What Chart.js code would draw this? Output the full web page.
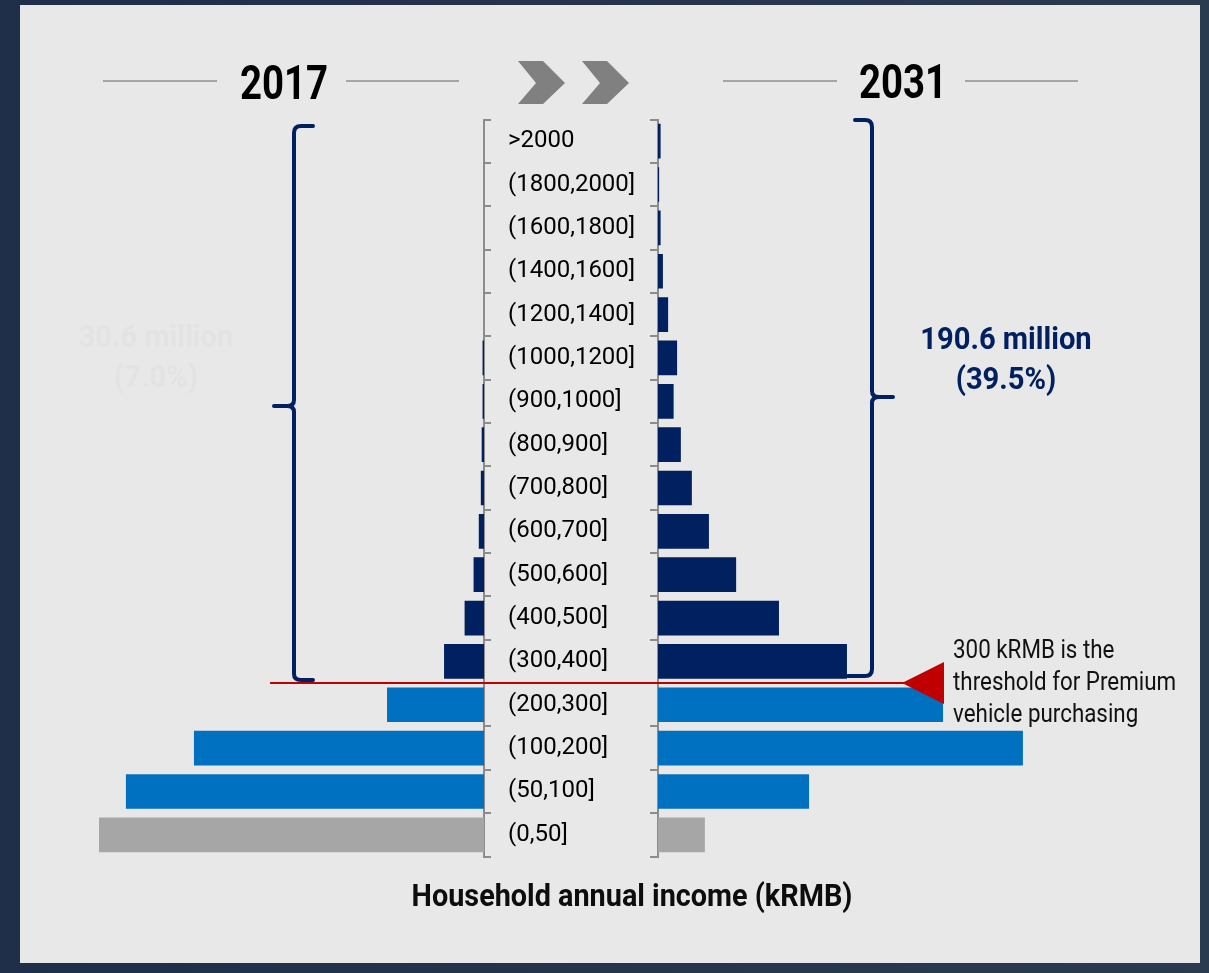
<!DOCTYPE html>
<html><head><meta charset="utf-8">
<script src="https://cdn.jsdelivr.net/npm/chart.js@4.4.1/dist/chart.umd.min.js"></script>
<style>
html,body{margin:0;padding:0;width:1209px;height:973px;overflow:hidden;background:#1f2c42;font-family:Roboto,'Liberation Sans',sans-serif;}
#bg{position:absolute;left:0;top:0;width:1209px;height:973px;background:linear-gradient(90deg,#1f2e49 0%,#25344b 45%,#2b3b4f 100%);}
#panel{position:absolute;left:20px;top:5px;width:1180px;height:958px;background:#e8e8e9;}
canvas{position:absolute;left:0;top:0;}
svg{position:absolute;left:0;top:0;}
.t{position:absolute;white-space:nowrap;}
.c{text-align:center;}
</style></head><body>
<div id="bg"></div><div id="panel"></div>
<svg width="1209" height="973" viewBox="0 0 1209 973">
  <g stroke="#a6a6a6" stroke-width="2">
    <line x1="103" y1="81" x2="217" y2="81"/>
    <line x1="346" y1="81" x2="459" y2="81"/>
    <line x1="723" y1="81" x2="837" y2="81"/>
    <line x1="965" y1="81" x2="1078" y2="81"/>
  </g>
  <g fill="#808080">
    <polygon points="518,61 543,61 565,83 543,104 518,104 536,83"/>
    <polygon points="582,61 607,61 629,83 607,104 582,104 600,83"/>
  </g>
  <g stroke="#002060" stroke-width="4" fill="none" stroke-linecap="round" stroke-linejoin="round">
    <path d="M313,126 L301,126 Q294,126 294,133 L294,400 Q294,406 287,406 L274,406 M287,406 Q294,406 294,412 L294,674 Q294,680 301,680 L313,680"/>
    <path d="M855,120 L865,120 Q872,120 872,127 L872,391 Q872,397 879,397 L893,397 M879,397 Q872,397 872,403 L872,669 Q872,676 865,676 L848,676"/>
  </g>
</svg>
<canvas id="cL" width="1209" height="973" style="width:1209px;height:973px"></canvas>
<canvas id="cR" width="1209" height="973" style="width:1209px;height:973px"></canvas>

<div class="t c" style="left:184px;top:54px;width:200px;font-size:48px;line-height:58px;font-weight:700;color:#000;transform:scaleX(0.8);">2017</div>
<div class="t c" style="left:803px;top:53px;width:200px;font-size:48px;line-height:58px;font-weight:700;color:#000;transform:scaleX(0.8);">2031</div>
<div class="t c" style="left:856px;top:319px;width:300px;font-size:31px;line-height:40px;font-weight:700;color:#002060;transform:scaleX(0.94);">190.6 million<br>(39.5%)</div>
<div class="t c" style="left:6px;top:317px;width:300px;font-size:31px;line-height:40px;font-weight:700;color:#e3e3e4;transform:scaleX(0.94);">30.6 million<br>(7.0%)</div>
<div class="t" style="left:953px;top:634px;font-size:25px;line-height:32px;color:#111;transform:scaleX(0.895);transform-origin:left center;">300 kRMB is the<br>threshold for Premium<br>vehicle purchasing</div>
<div class="t c" style="left:332px;top:875px;width:600px;font-size:32px;line-height:40px;font-weight:700;color:#0d0d0d;transform:scaleX(0.9);">Household annual income (kRMB)</div>

<script>
// Household annual income brackets (kRMB), top to bottom
const categories = [">2000","(1800,2000]","(1600,1800]","(1400,1600]","(1200,1400]","(1000,1200]","(900,1000]","(800,900]","(700,800]","(600,700]","(500,600]","(400,500]","(300,400]","(200,300]","(100,200]","(50,100]","(0,50]"];
// Number of households (million)
const households2017 = [0,0,0,0,0,0.5,0.5,0.8,1.1,1.8,3.6,6.7,13.8,33.5,100.2,123.7,133.0];
const households2031 = [0.9,0.4,0.9,1.7,3.5,6.6,5.4,7.9,11.7,17.6,27.0,41.8,65.3,98.5,126.1,52.2,16.2];
const premiumThresholdLabel = "(300,400]";

const NAVY = '#002060', BLUE = '#0070c0', GREY = '#a6a6a6', AXIS = '#8c8c8c';
const thresholdIdx = categories.indexOf(premiumThresholdLabel);
function barColor(ctx){
  const i = ctx.dataIndex;
  if (i <= thresholdIdx) return NAVY;
  if (i === categories.length - 1) return GREY;
  return BLUE;
}
const common = {
  indexAxis:'y', responsive:false, animation:false,
  plugins:{legend:{display:false}, tooltip:{enabled:false}}
};
const ds = (data) => ({data, backgroundColor:barColor, borderWidth:0, barPercentage:0.8, categoryPercentage:1});

new Chart(document.getElementById('cL'), {
  type:'bar',
  data:{labels:categories, datasets:[ds(households2017)]},
  options:Object.assign({}, common, {
    layout:{padding:{left:0,right:709,top:119.5,bottom:116.5}},
    scales:{
      x:{display:false, reverse:true, min:0, max:167.2},
      y:{position:'right', afterFit(s){s.width=16;},
         ticks:{display:false, autoSkip:false},
         grid:{drawOnChartArea:false, drawTicks:true, tickLength:7, color:AXIS, lineWidth:2},
         border:{display:true, color:AXIS, width:2}}
    }
  })
});

const thresholdPlugin = {
  id:'threshold',
  afterDraw(chart){
    const y = chart.scales.y;
    const yy = (y.getPixelForValue(thresholdIdx) + y.getPixelForValue(thresholdIdx+1))/2;
    const ctx = chart.ctx;
    ctx.save();
    ctx.strokeStyle = '#c00000'; ctx.lineWidth = 2;
    ctx.beginPath(); ctx.moveTo(270, yy); ctx.lineTo(905, yy); ctx.stroke();
    ctx.fillStyle = '#c00000';
    ctx.beginPath(); ctx.moveTo(902, yy); ctx.lineTo(944, yy-21); ctx.lineTo(944, yy+21); ctx.closePath(); ctx.fill();
    ctx.restore();
  }
};

new Chart(document.getElementById('cR'), {
  type:'bar',
  data:{labels:categories, datasets:[ds(households2031)]},
  options:Object.assign({}, common, {
    layout:{padding:{left:508,right:0,top:119.5,bottom:116.5}},
    scales:{
      x:{display:false, min:0, max:190.4},
      y:{position:'left', afterFit(s){s.width=150;},
         ticks:{autoSkip:false, crossAlign:'far', color:'#000', font:{family:'Roboto', size:24}, padding:0},
         grid:{drawOnChartArea:false, drawTicks:true, tickLength:8, color:AXIS, lineWidth:2},
         border:{display:true, color:AXIS, width:2}}
    }
  }),
  plugins:[thresholdPlugin]
});
</script>
</body></html>
